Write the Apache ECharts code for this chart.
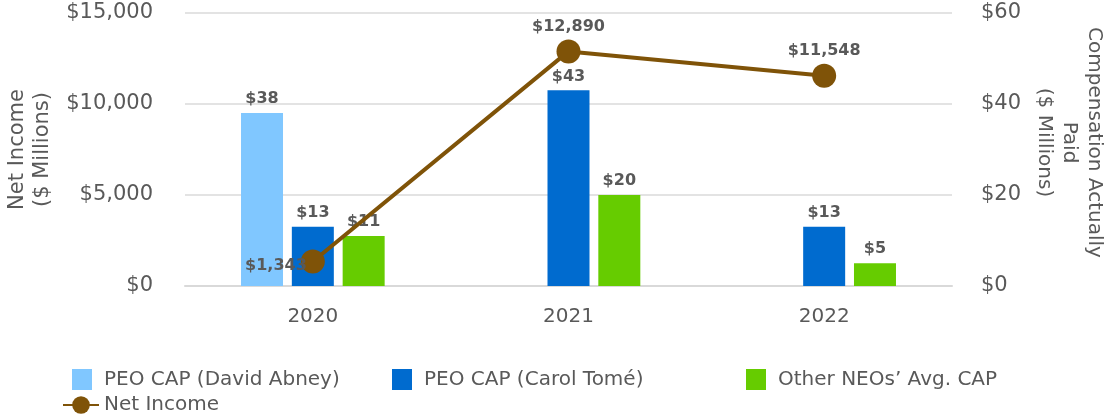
<!DOCTYPE html>
<html>
<head>
<meta charset="utf-8">
<script src="https://cdn.jsdelivr.net/npm/echarts@6/dist/echarts.min.js"></script>
<style>
  html, body { margin: 0; padding: 0; background: #fff; }
  #chart { width: 1109px; height: 414px; }
</style>
</head>
<body>
<div id="chart"></div>
<script>
const categories = ["2020", "2021", "2022"];
const abneyCap = [38, null, null];
const tomeCap = [13, 43, 13];
const neoCap = [11, 20, 5];
const netIncome = [1343, 12890, 11548];

const textColor = "#595959";
const font = "DejaVu Sans, Verdana, sans-serif";

const money = (v) => "$" + Number(v).toLocaleString("en-US");

const barLabel = {
  show: true,
  position: "top",
  distance: 6,
  color: textColor,
  fontFamily: font,
  fontWeight: "bold",
  fontSize: 16,
  formatter: (p) => money(p.value),
};

// one legend block per item so each sits where the original has it
function legendItem(name, left, top, w, h, pad) {
  return {
    left: left,
    top: top,
    itemWidth: w,
    itemHeight: h,
    icon: name === "Net Income" ? undefined : "rect",
    data: [name],
    textStyle: { color: textColor, fontSize: 20, fontFamily: font, padding: [0, 0, 0, pad] },
  };
}

const chart = echarts.init(document.getElementById("chart"), null, { renderer: "canvas" });

chart.setOption({
  animation: false,
  textStyle: { fontFamily: font },
  grid: { left: 185, right: 157, top: 13, bottom: 128, outerBoundsMode: "none" },
  legend: [
    legendItem("PEO CAP (David Abney)", 67, 364, 20, 21, 7),
    legendItem("PEO CAP (Carol Tomé)", 387, 364, 20, 21, 7),
    legendItem("Other NEOs’ Avg. CAP", 741, 364, 20, 21, 7),
    legendItem("Net Income", 57, 390, 36, 22, 0),
  ],
  xAxis: {
    type: "category",
    data: categories,
    axisLine: { lineStyle: { color: "#d9d9d9", width: 2 } },
    axisTick: { show: false },
    axisLabel: { color: textColor, fontSize: 20, fontFamily: font, margin: 21 },
  },
  yAxis: [
    {
      type: "value",
      min: 0,
      max: 15000,
      interval: 5000,
      name: "Net Income\n($ Millions)",
      nameLocation: "middle",
      nameRotate: 90,
      nameGap: 122,
      nameTextStyle: { color: textColor, fontSize: 21, fontFamily: font, lineHeight: 25 },
      axisLine: { show: false },
      axisTick: { show: false },
      axisLabel: { color: textColor, fontSize: 21, fontFamily: font, margin: 32, formatter: money },
      splitLine: { lineStyle: { color: "#e3e3e3", width: 2 } },
    },
    {
      type: "value",
      min: 0,
      max: 60,
      interval: 20,
      position: "right",
      name: "Compensation Actually\nPaid\n($ Millions)",
      nameLocation: "middle",
      nameRotate: -90,
      nameGap: 77,
      nameTextStyle: {
        color: textColor,
        fontSize: 20,
        fontFamily: font,
        lineHeight: 25,
        padding: [0, 14, 0, 0],
      },
      axisLine: { show: false },
      axisTick: { show: false },
      axisLabel: { color: textColor, fontSize: 21, fontFamily: font, margin: 29, formatter: money },
      splitLine: { show: false },
    },
  ],
  series: [
    {
      name: "PEO CAP (David Abney)",
      type: "bar",
      yAxisIndex: 1,
      data: abneyCap,
      barWidth: 42,
      barGap: "21%",
      itemStyle: { color: "#80C7FF" },
      label: barLabel,
    },
    {
      name: "PEO CAP (Carol Tomé)",
      type: "bar",
      yAxisIndex: 1,
      data: tomeCap,
      barWidth: 42,
      barGap: "21%",
      itemStyle: { color: "#006BCF" },
      label: barLabel,
    },
    {
      name: "Other NEOs’ Avg. CAP",
      type: "bar",
      yAxisIndex: 1,
      data: neoCap,
      barWidth: 42,
      barGap: "21%",
      itemStyle: { color: "#66CC00" },
      label: barLabel,
    },
    {
      name: "Net Income",
      type: "line",
      yAxisIndex: 0,
      data: netIncome.map((v, i) =>
        i === 0
          ? { value: v, label: { position: "left", distance: -6, offset: [0, 4] } }
          : v
      ),
      symbol: "circle",
      symbolSize: 24,
      z: 5,
      lineStyle: { color: "#7F5308", width: 4 },
      itemStyle: { color: "#7F5308" },
      label: {
        show: true,
        position: "top",
        distance: 5,
        color: textColor,
        fontFamily: font,
        fontWeight: "bold",
        fontSize: 16,
        formatter: (p) => money(p.value),
      },
    },
  ],
});

window.addEventListener("resize", () => chart.resize());
</script>
</body>
</html>
